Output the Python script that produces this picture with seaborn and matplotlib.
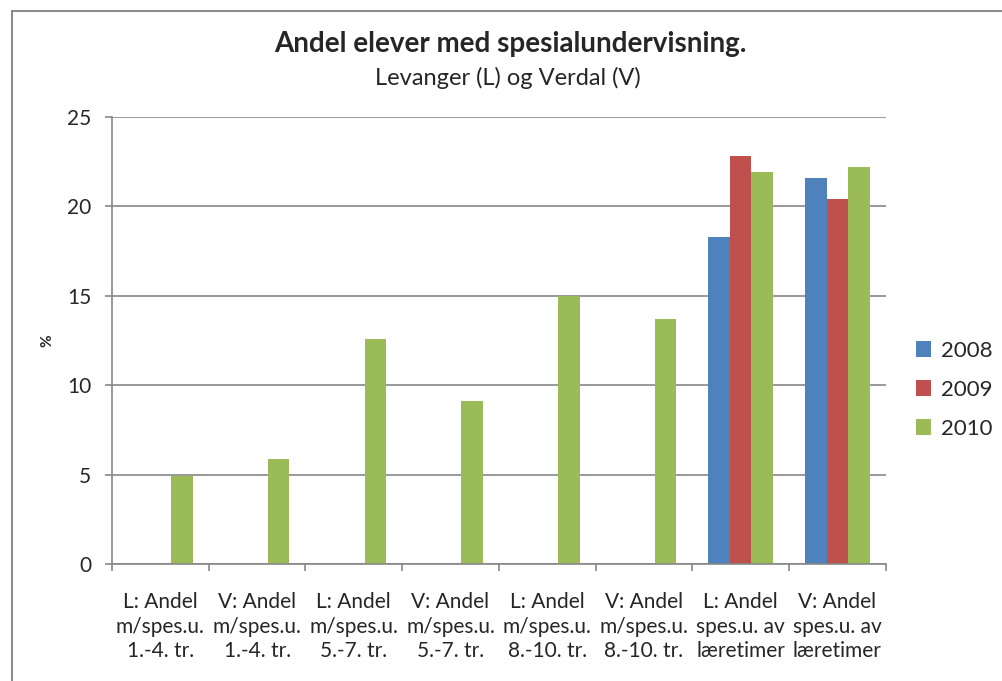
import matplotlib
matplotlib.use("Agg")
import matplotlib.pyplot as plt
import numpy as np
import pandas as pd
import seaborn as sns
from matplotlib.patches import Rectangle

sns.set_theme(style="white")
plt.rcParams["font.family"] = ["Lato", "DejaVu Sans"]

# --- data -------------------------------------------------------------------
categories = [
    "L: Andel\nm/spes.u.\n1.-4. tr.",
    "V: Andel\nm/spes.u.\n1.-4. tr.",
    "L: Andel\nm/spes.u.\n5.-7. tr.",
    "V: Andel\nm/spes.u.\n5.-7. tr.",
    "L: Andel\nm/spes.u.\n8.-10. tr.",
    "V: Andel\nm/spes.u.\n8.-10. tr.",
    "L: Andel\nspes.u. av\nlæretimer",
    "V: Andel\nspes.u. av\nlæretimer",
]
years = ["2008", "2009", "2010"]
values_2008 = [np.nan, np.nan, np.nan, np.nan, np.nan, np.nan, 18.3, 21.6]
values_2009 = [np.nan, np.nan, np.nan, np.nan, np.nan, np.nan, 22.8, 20.4]
values_2010 = [4.9, 5.9, 12.6, 9.1, 15.0, 13.7, 21.9, 22.2]
colors = ["#4F81BD", "#C0504D", "#9BBB59"]

df = pd.DataFrame({
    "kategori": categories * 3,
    "år": [y for y in years for _ in categories],
    "verdi": values_2008 + values_2009 + values_2010,
})

# --- figure -----------------------------------------------------------------
fig = plt.figure(figsize=(10.02, 6.81), dpi=100)
ax = fig.add_axes([0.1118, 0.1718, 0.7722, 0.6564])

sns.barplot(
    data=df, x="kategori", y="verdi", hue="år", order=categories,
    hue_order=years, palette=colors, width=0.667, saturation=1,
    linewidth=0, ax=ax,
)

grey = "#878787"
ax.set_ylim(0, 25)
ax.set_xlim(-0.5, len(categories) - 0.5)
ax.set_yticks([0, 5, 10, 15, 20, 25])
ax.yaxis.grid(True, color=grey, linewidth=1.2)
ax.set_axisbelow(True)
for s in ["top", "right"]:
    ax.spines[s].set_visible(False)
for s in ["left", "bottom"]:
    ax.spines[s].set_color(grey)
    ax.spines[s].set_linewidth(1.2)

ax.set_xticks(np.arange(-0.5, len(categories)), minor=True)
ax.tick_params(axis="x", which="major", length=0, pad=20, labelsize=15)
ax.tick_params(axis="x", which="minor", length=5, width=1.2, color=grey,
               direction="out", bottom=True)
ax.tick_params(axis="y", length=5, width=1.2, color=grey, direction="out",
               left=True, pad=10, labelsize=15)
for lbl in ax.get_xticklabels():
    lbl.set_linespacing(1.3)

ax.set_xlabel("")
ax.set_ylabel("%", fontsize=11, fontweight="bold")
ax.yaxis.set_label_coords(-0.075, 0.5)

leg = ax.legend(
    loc="center left", bbox_to_anchor=(1.013, 0.39), frameon=False,
    fontsize=16, handlelength=0.7, handleheight=0.7, handletextpad=0.45,
    labelspacing=0.85,
)

fig.text(0.509, 0.935, "Andel elever med spesialundervisning.",
         ha="center", va="center", fontsize=20, fontweight="bold")
fig.text(0.507, 0.886, "Levanger (L) og Verdal (V)",
         ha="center", va="center", fontsize=17)

fig.patches.append(Rectangle((12 / 1002, -0.05), 1.1, 1.05 - 11 / 681,
                             transform=fig.transFigure, fill=False,
                             edgecolor="#8c8c8c", linewidth=1.5))

fig.savefig("out.png", dpi=100)
